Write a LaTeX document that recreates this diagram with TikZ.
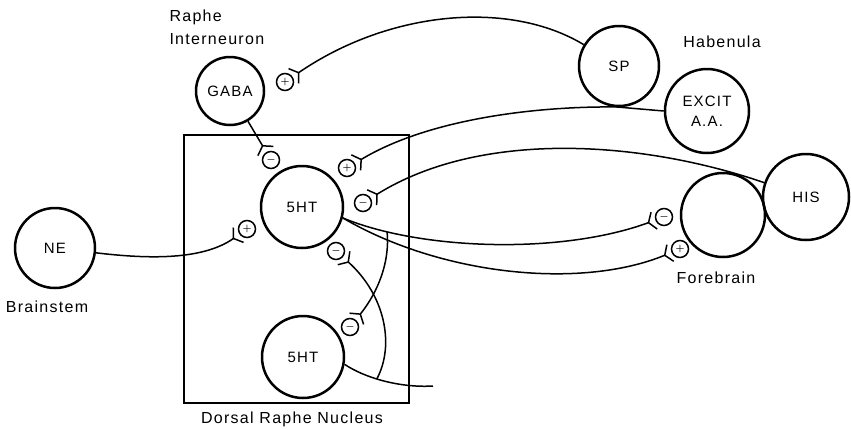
\documentclass[tikz,border=0pt]{standalone}
\usepackage{bm}
\usepackage{fontspec}
\setmainfont[LetterSpace=8]{Liberation Sans}
\usetikzlibrary{arrows.meta}
\begin{document}
\begin{tikzpicture}[x=1pt,y=-1pt,
    cell/.style={draw,circle,line width=2.5pt,minimum size=#1,inner sep=0pt,align=center,font=\fontsize{15}{20}\selectfont},
    sgn/.style={draw,circle,line width=1.5pt,minimum size=17pt,inner sep=0pt,font=\normalsize},
    lbl/.style={font=\fontsize{16}{23}\selectfont,align=left},
    axon/.style={line width=1.5pt},
    syn/.style={axon,-{Straight Barb[reversed,length=6pt,width=18pt]},shorten >=0.5pt}]
            \useasboundingbox (0,0) rectangle (851,429);
            \draw[line width=1.4pt] (184,135) rectangle (409,403);
            \node[cell=80pt] (NE) at (55,248) {NE};
            \node[cell=68pt] (GABA) at (230,91) {GABA};
            \node[cell=80pt] (SP) at (619,66) {SP};
            \node[cell=84pt] (EX) at (707,111) {EXCIT\\A.A.};
            \node[cell=82pt] (HTa) at (302,207) {5HT};
            \node[cell=82pt] (HTb) at (303,357) {5HT};
            \node[cell=84pt] (FB) at (723,215) {};
            \node[cell=86pt] (HIS) at (806,197) {HIS};
            \node[lbl,anchor=west] (rin) at (166,27) {Raphe\\Interneuron};
            \node[lbl] (hab) at (722,42) {Habenula};
            \node[lbl] (bst) at (47,307) {Brainstem};
            \node[lbl] (fbl) at (716,278) {Forebrain};
            \node[lbl] (drn) at (292,419) {Dorsal Raphe Nucleus};
            \node[sgn] (pSP) at (285,82) {$\bm{+}$};
            \node[sgn] (mGA) at (271,160) {$\bm{-}$};
            \node[sgn] (pEX) at (347,168) {$\bm{+}$};
            \node[sgn] (mHI) at (363,203) {$\bm{-}$};
            \node[sgn] (pNE) at (247,229) {$\bm{+}$};
            \node[sgn] (mFB) at (664,217) {$\bm{-}$};
            \node[sgn] (pFB) at (680,249) {$\bm{+}$};
            \node[sgn] (mUp) at (336,251) {$\bm{-}$};
            \node[sgn] (mDn) at (350,327) {$\bm{-}$};
            \coordinate (bEnd) at (433,386);
            \draw[syn] (SP) .. controls (510,0) and (390,10) .. (pSP);
            \draw[syn] (GABA) -- (mGA);
            \draw[syn] (EX.west) -- (617,107) .. controls (540,106) and (430,118) .. (pEX);
            \draw[syn] (HIS) .. controls (640,140) and (480,130) .. (mHI);
            \draw[syn] (NE) .. controls (140,258) and (200,262) .. (pNE);
            \draw[syn] (HTa.-15) .. controls (420,250) and (560,255) .. (mFB) coordinate[pos=0.17] (brA);
            \draw[syn] (HTa.-15) .. controls (440,275) and (580,290) .. (pFB);
            \draw[axon] (HTb.-10) .. controls (365,378) and (400,388) .. (bEnd) coordinate[pos=0.42] (brB);
            \draw[syn] (brA) .. controls (390,262) and (378,292) .. (mDn);
            \draw[syn] (brB) .. controls (395,345) and (385,295) .. (mUp);
        \end{tikzpicture}
\end{document}
